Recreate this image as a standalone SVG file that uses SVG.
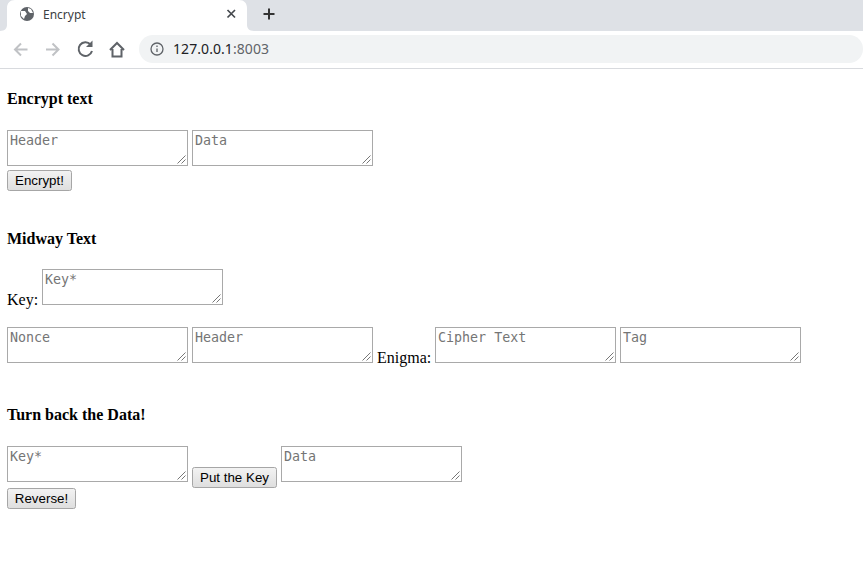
<svg xmlns="http://www.w3.org/2000/svg" width="863" height="574" viewBox="0 0 863 574">
<style>
.h{font:bold 16px "Liberation Serif",serif;fill:#000}
.l{font:16px "Liberation Serif",serif;fill:#000}
.ta{fill:#fff;stroke:#a9a9a9;stroke-width:1}
.ph{font:13.33px "DejaVu Sans Mono","Liberation Mono",monospace;fill:#757575}
.gr{fill:none;stroke:#777;stroke-width:1}
.btn{fill:url(#bg);stroke:#a6a6a6;stroke-width:1}
.bt{font:13.33px "Liberation Sans",sans-serif;fill:#000;text-anchor:middle}
.ic{fill:none;stroke-width:2}
</style>
<defs>
<linearGradient id="bg" x1="0" y1="0" x2="0" y2="1"><stop offset="0" stop-color="#f3f3f3"/><stop offset="1" stop-color="#dedede"/></linearGradient>
<g id="grip"><path class="gr" d="M-9.500 -1.500L-1.500 -9.500M-5.500 -1.500L-1.500 -5.500"/></g>
</defs>
<rect width="863" height="574" fill="#fff"/>
<g id="browser-chrome">
<rect width="863" height="31" fill="#dee1e6"/>
<path d="M0 31C5 31 7 28 7 25V8C7 3 10 0 15 0H239C244 0 247 3 247 8V25C247 28 249 31 254 31Z" fill="#fff"/>
<rect y="31" width="863" height="37" fill="#fff"/>
<rect y="68" width="863" height="1" fill="#d8dade"/>
<circle cx="27" cy="14" r="7" fill="#5f6368"/>
<path d="M21 11l4 0 2 3-2 2-1 3-3-3zM28 8l3 1 2 4-3 0-2-2z" fill="#fff"/>
<text x="43" y="18.500" font-family="'Noto Sans','Open Sans',sans-serif" font-size="12" fill="#3c4043">Encrypt</text>
<path d="M227.500 10l7.500 7.500M235 10l-7.500 7.500" stroke="#45494e" stroke-width="1.700" fill="none"/>
<path d="M269 8.500v11M263.500 14h11" stroke="#333" stroke-width="2" fill="none"/>
<path d="M27.500 49.500H15M21 43.500l-6 6 6 6" class="ic" stroke="#c0c2c5"/>
<path d="M46 49.500h12.500M52.500 43.500l6 6-6 6" class="ic" stroke="#c0c2c5"/>
<path d="M90.500 44.500A6.800 6.800 0 1 0 92 51" class="ic" stroke="#5f6368"/><path d="M86 47h6.500v-6.500z" fill="#5f6368"/>
<path d="M110 50l7-7 7 7M112.500 49v7.500h9V49" class="ic" stroke="#5f6368"/>
<rect x="139" y="35" width="724" height="28" rx="14" fill="#f1f3f4"/>
<circle cx="157" cy="49" r="6" fill="none" stroke="#5f6368" stroke-width="1.300"/>
<path d="M157 48.500v3.500M157 45.500v1.500" stroke="#5f6368" stroke-width="1.300"/>
<text x="173" y="54" font-family="'Noto Sans','Open Sans',sans-serif" font-size="14" textLength="96"><tspan fill="#202124">127.0.0.1</tspan><tspan fill="#5f6368">:8003</tspan></text>
</g>
<g id="section-encrypt">
<text class="h" x="7" y="104">Encrypt text</text>
<g id="enc-header"><rect class="ta" x="7.500" y="130.500" width="180" height="35"/><use href="#grip" x="187" y="165"/><text class="ph" x="10" y="145">Header</text></g>
<g id="enc-data"><rect class="ta" x="192.500" y="130.500" width="180" height="35"/><use href="#grip" x="372" y="165"/><text class="ph" x="195" y="145">Data</text></g>
<g id="enc-button"><rect class="btn" x="7.500" y="170.500" width="64" height="20" rx="2"/><text class="bt" x="39.500" y="185">Encrypt!</text></g>
</g>
<g id="section-midway">
<text class="h" x="7" y="244">Midway Text</text>
<text class="l" x="7" y="305">Key:</text>
<g id="mid-key"><rect class="ta" x="42.500" y="269.500" width="180" height="35"/><use href="#grip" x="222" y="304"/><text class="ph" x="45" y="284">Key*</text></g>
<g id="mid-nonce"><rect class="ta" x="7.500" y="327.500" width="180" height="35"/><use href="#grip" x="187" y="362"/><text class="ph" x="10" y="342">Nonce</text></g>
<g id="mid-header"><rect class="ta" x="192.500" y="327.500" width="180" height="35"/><use href="#grip" x="372" y="362"/><text class="ph" x="195" y="342">Header</text></g>
<text class="l" x="377" y="363">Enigma:</text>
<g id="mid-cipher"><rect class="ta" x="435.500" y="327.500" width="180" height="35"/><use href="#grip" x="615" y="362"/><text class="ph" x="438" y="342">Cipher Text</text></g>
<g id="mid-tag"><rect class="ta" x="620.500" y="327.500" width="180" height="35"/><use href="#grip" x="800" y="362"/><text class="ph" x="623" y="342">Tag</text></g>
</g>
<g id="section-reverse">
<text class="h" x="7" y="420">Turn back the Data!</text>
<g id="rev-key"><rect class="ta" x="7.500" y="446.500" width="180" height="35"/><use href="#grip" x="187" y="481"/><text class="ph" x="10" y="461">Key*</text></g>
<g id="rev-put"><rect class="btn" x="192.500" y="467.500" width="84" height="20" rx="2"/><text class="bt" x="234.500" y="482">Put the Key</text></g>
<g id="rev-data"><rect class="ta" x="281.500" y="446.500" width="180" height="35"/><use href="#grip" x="461" y="481"/><text class="ph" x="284" y="461">Data</text></g>
<g id="rev-button"><rect class="btn" x="7.500" y="488.500" width="68" height="20" rx="2"/><text class="bt" x="41.500" y="503">Reverse!</text></g>
</g>
<g id="connectors"/>
</svg>
